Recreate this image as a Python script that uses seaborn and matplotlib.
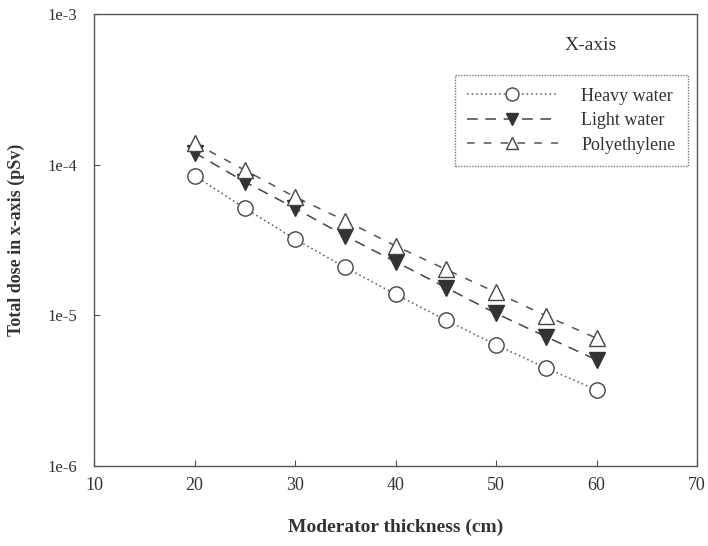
import numpy as np
import pandas as pd
import matplotlib
matplotlib.use("Agg")
import matplotlib.pyplot as plt
import seaborn as sns

thickness = [20, 25, 30, 35, 40, 45, 50, 55, 60]
heavy_water = [8.45e-5, 5.14e-5, 3.21e-5, 2.08e-5, 1.38e-5, 9.3e-6, 6.37e-6, 4.46e-6, 3.2e-6]
light_water = [1.2e-4, 7.7e-5, 5.14e-5, 3.36e-5, 2.27e-5, 1.53e-5, 1.03e-5, 7.2e-6, 5.06e-6]
polyethylene = [1.39e-4, 9.2e-5, 6.1e-5, 4.25e-5, 2.89e-5, 2.02e-5, 1.42e-5, 9.9e-6, 7.05e-6]
series_names = ["Heavy water", "Light water", "Polyethylene"]
x_ticks = [10, 20, 30, 40, 50, 60, 70]
y_ticks = [1e-6, 1e-5, 1e-4, 1e-3]
y_tick_labels = ["1e-6", "1e-5", "1e-4", "1e-3"]

sns.set_theme(style="white")
plt.rcParams["font.family"] = ["Liberation Serif", "DejaVu Serif"]

fig = plt.figure(figsize=(7.08, 5.46), dpi=100)
ax = fig.add_axes([0.1328, 0.1465, 0.8517, 0.8279])

styles = [
    dict(ls=(0, (1, 2)), marker="o", mfc="white", mec="#444444", color="#555555", ms=11, lw=1.1),
    dict(ls=(0, (7, 5)), marker="v", mfc="#333333", mec="#333333", color="#444444", ms=11, lw=1.1),
    dict(ls=(0, (5, 6)), marker="^", mfc="white", mec="#444444", color="#555555", ms=11, lw=1.1),
]
data = [heavy_water, light_water, polyethylene]
for name, vals, st in zip(series_names, data, styles):
    df = pd.DataFrame({"x": thickness, "y": vals})
    sns.lineplot(data=df, x="x", y="y", ax=ax, label=name,
                 color=st["color"], linestyle=st["ls"], marker=st["marker"],
                 markerfacecolor=st["mfc"], markeredgecolor=st["mec"],
                 markersize=st["ms"], markeredgewidth=1.0, linewidth=st["lw"])

ax.set_yscale("log")
ax.set_xlim(10, 70)
ax.set_ylim(1e-6, 1e-3)
ax.set_xticks(x_ticks)
ax.set_xticklabels([str(t) for t in x_ticks], fontsize=13, color="#333333")
ax.set_yticks(y_ticks)
ax.set_yticklabels(y_tick_labels, fontsize=12, color="#333333")
ax.minorticks_off()
ax.yaxis.set_minor_locator(matplotlib.ticker.NullLocator())
ax.tick_params(direction="in", length=4, width=0.8, color="#555555", pad=8,
               bottom=True, left=True)
ax.tick_params(axis="y", pad=12)

for sp in ax.spines.values():
    sp.set_linestyle((0, (1, 1)))
    sp.set_color("#555555")
    sp.set_linewidth(1.0)

ax.set_xlabel("Moderator thickness (cm)", fontsize=14, fontweight="bold", color="#333333", labelpad=18)
ax.set_ylabel("Total dose in x-axis (pSv)", fontsize=13, fontweight="bold", color="#333333", labelpad=16)

ax.text(0.823, 0.931, "X-axis", transform=ax.transAxes, fontsize=14, color="#333333",
        ha="center", va="center")

leg = ax.legend(loc="upper right", bbox_to_anchor=(0.985, 0.865), borderaxespad=0,
                frameon=True, fontsize=13, handlelength=5.0, labelspacing=0.42,
                borderpad=0.7, handletextpad=1.3, fancybox=False, markerscale=0.85)
leg.get_frame().set_edgecolor("#555555")
leg.get_frame().set_linewidth(1.0)
leg.get_frame().set_linestyle((0, (1, 1)))
for t in leg.get_texts():
    t.set_color("#333333")

fig.savefig("out.png", dpi=100)
